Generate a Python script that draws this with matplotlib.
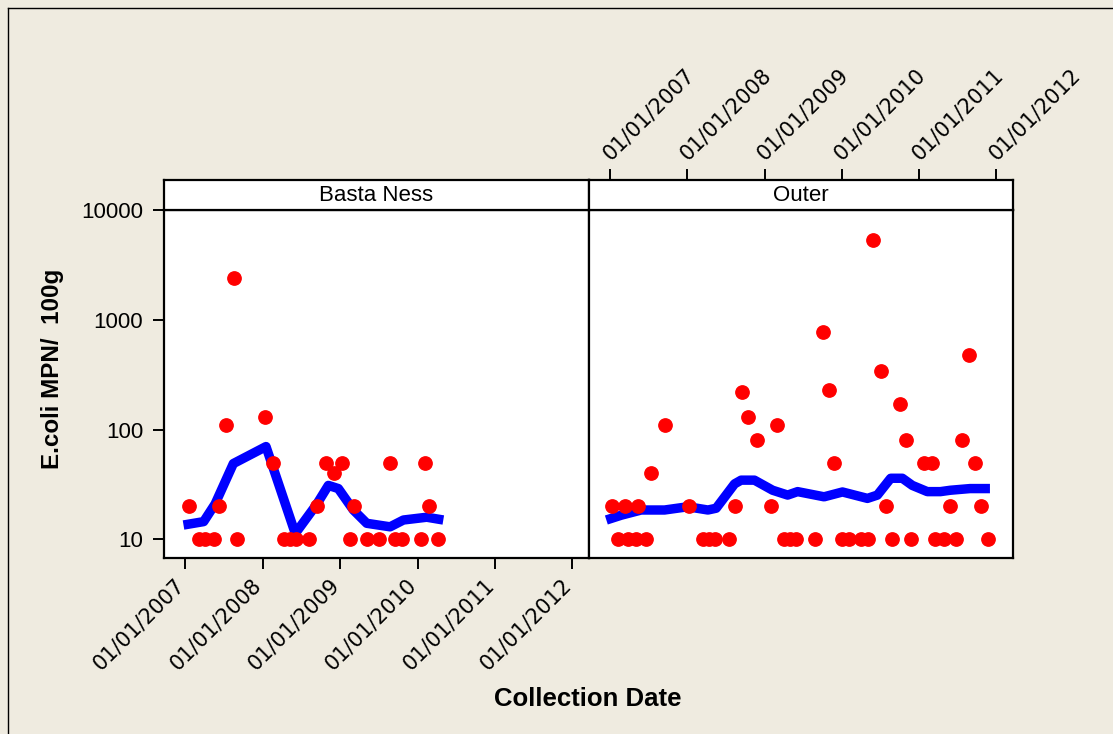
import matplotlib
matplotlib.use('Agg')
import matplotlib.pyplot as plt
import numpy as np
from matplotlib.lines import Line2D
from matplotlib.ticker import NullLocator

plt.rcParams['font.family'] = ['Liberation Sans', 'DejaVu Sans']

# ---------------- data ----------------
panel_names = ['Basta Ness', 'Outer']

basta_dates = ['2007-01-20', '2007-03-08', '2007-04-04', '2007-05-18', '2007-06-11',
               '2007-07-12', '2007-08-18', '2007-09-04', '2008-01-10', '2008-02-19',
               '2008-04-09', '2008-05-11', '2008-06-08', '2008-08-08', '2008-09-13',
               '2008-10-27', '2008-12-04', '2009-01-10', '2009-02-15', '2009-03-05',
               '2009-05-08', '2009-07-01', '2009-08-26', '2009-09-18', '2009-10-20',
               '2010-01-18', '2010-02-06', '2010-02-23', '2010-04-09']
basta_values = [20, 10, 10, 10, 20,
                110, 2400, 10, 130, 50,
                10, 10, 10, 10, 20,
                50, 40, 50, 10, 20,
                10, 10, 50, 10, 10,
                10, 50, 20, 10]

basta_fit_dates = ['2006-12-24', '2007-03-29', '2007-05-22', '2007-08-16', '2008-01-17',
                   '2008-06-03', '2008-09-13', '2008-11-06', '2008-12-23', '2009-03-04',
                   '2009-05-06', '2009-08-24', '2009-10-26', '2010-02-13', '2010-05-02']
basta_fit_values = [13.5, 14.5, 21, 49, 70,
                    11.3, 21, 31, 29, 18.5,
                    14, 13, 15, 15.9, 15]

outer_dates = ['2007-01-10', '2007-02-07', '2007-03-10', '2007-03-26', '2007-05-05',
               '2007-05-12', '2007-06-18', '2007-07-14', '2007-09-15', '2008-01-11',
               '2008-03-14', '2008-04-10', '2008-05-11', '2008-07-14', '2008-08-11',
               '2008-09-14', '2008-10-12', '2008-11-27', '2009-01-30', '2009-02-26',
               '2009-04-04', '2009-04-30', '2009-05-28', '2009-08-27', '2009-10-02',
               '2009-10-30', '2009-11-24', '2010-01-03', '2010-02-04', '2010-03-30',
               '2010-05-04', '2010-05-28', '2010-07-02', '2010-07-30', '2010-08-26',
               '2010-10-01', '2010-10-30', '2010-11-25', '2011-01-25', '2011-03-03',
               '2011-03-18', '2011-04-30', '2011-05-28', '2011-06-24', '2011-07-20',
               '2011-08-26', '2011-09-21', '2011-10-19', '2011-11-24']
outer_values = [20, 10, 20, 10, 10,
                20, 10, 40, 110, 20,
                10, 10, 10, 10, 20,
                220, 130, 80, 20, 110,
                10, 10, 10, 10, 780,
                230, 50, 10, 10, 10,
                10, 5300, 340, 20, 10,
                170, 80, 10, 50, 50,
                10, 10, 20, 10, 80,
                480, 50, 20, 10]

outer_fit_dates = ['2006-12-14', '2007-02-23', '2007-05-28', '2007-09-15', '2008-01-03',
                   '2008-04-07', '2008-05-16', '2008-08-11', '2008-09-11', '2008-11-13',
                   '2009-02-07', '2009-04-19', '2009-06-05', '2009-10-08', '2010-01-03',
                   '2010-05-01', '2010-06-17', '2010-08-19', '2010-10-13', '2010-11-29',
                   '2011-02-08', '2011-04-11', '2011-05-28', '2011-08-29', '2011-12-01']
outer_fit_values = [15, 16.6, 18.5, 18.5, 19.8,
                    18.5, 19.2, 32, 34.6, 34.6,
                    28, 25.3, 27.2, 24.4, 27,
                    23.6, 25.3, 36, 36, 31,
                    27.2, 27.2, 28, 29, 29]

y_ticks = [10, 100, 1000, 10000]
y_tick_labels = ['10', '100', '1000', '10000']
x_tick_dates = ['2007-01-01', '2008-01-01', '2009-01-01', '2010-01-01', '2011-01-01', '2012-01-01']
x_tick_labels = ['01/01/2007', '01/01/2008', '01/01/2009', '01/01/2010', '01/01/2011', '01/01/2012']
x_limits = ['2006-09-23', '2012-03-19']
y_limits = [6.76, 10000]

y_label = 'E.coli MPN/  100g'
x_label = 'Collection Date'

# ---------------- figure ----------------
W, H = 1113, 734
BG = '#efebe0'
fig = plt.figure(figsize=(W / 100, H / 100), dpi=100)
fig.patch.set_facecolor(BG)


def box(x0, y0, x1, y1):
    return [x0 / W, 1 - y1 / H, (x1 - x0) / W, (y1 - y0) / H]


def d(lst):
    return np.array(lst, dtype='datetime64[D]')


ax1 = fig.add_axes(box(164, 210, 589, 558))
ax2 = fig.add_axes(box(589, 210, 1013, 558))
st1 = fig.add_axes(box(164, 180, 589, 210))
st2 = fig.add_axes(box(589, 180, 1013, 210))

series = [(ax1, basta_dates, basta_values, basta_fit_dates, basta_fit_values),
          (ax2, outer_dates, outer_values, outer_fit_dates, outer_fit_values)]

TICK_FS = 16
DATE_FS = 15
DATE_FONT = ['DejaVu Sans']
xl = d(x_limits)

for ax, dts, vals, fdts, fvals in series:
    ax.set_facecolor('white')
    ax.plot(d(fdts), fvals, color='#0000ff', lw=6.8, solid_joinstyle='round',
            solid_capstyle='butt', zorder=2)
    ax.plot(d(dts), vals, linestyle='none', marker='o', markersize=9.6,
            markerfacecolor='#ff0000', markeredgecolor='#ff0000', zorder=3)
    ax.set_yscale('log')
    ax.set_ylim(*y_limits)
    ax.set_xlim(xl[0], xl[1])
    ax.yaxis.set_minor_locator(NullLocator())
    ax.xaxis.set_minor_locator(NullLocator())
    for sp in ax.spines.values():
        sp.set_linewidth(1.6)
        sp.set_color('black')

# left panel: y ticks and bottom x ticks
ax1.set_yticks(y_ticks)
ax1.set_yticklabels(y_tick_labels)
ax1.tick_params(axis='y', left=True, right=False, labelleft=True, length=8, width=1.4,
                pad=7, labelsize=TICK_FS)
ax1.set_xticks(d(x_tick_dates))
ax1.set_xticklabels(x_tick_labels, rotation=45, ha='right', va='baseline',
                    rotation_mode='anchor', family=DATE_FONT, fontsize=DATE_FS)
ax1.tick_params(axis='x', bottom=True, top=False, labelbottom=True, labeltop=False,
                length=8, width=1.4, pad=12)

# right panel: no ticks
ax2.set_yticks(y_ticks)
ax2.set_xticks(d(x_tick_dates))
ax2.tick_params(axis='both', left=False, right=False, top=False, bottom=False,
                labelleft=False, labelbottom=False, labeltop=False, labelright=False)

# strips
for st, name in zip([st1, st2], panel_names):
    st.set_facecolor('white')
    st.set_xlim(xl[0], xl[1])
    st.set_yticks([])
    for sp in st.spines.values():
        sp.set_linewidth(1.6)
        sp.set_color('black')
    st.text(0.5, 0.47, name, ha='center', va='center', fontsize=16,
            transform=st.transAxes)
st1.set_xticks([])

# top date ticks on the right strip
st2.set_xticks(d(x_tick_dates))
st2.set_xticklabels(x_tick_labels, rotation=45, ha='left', va='baseline',
                    rotation_mode='anchor', family=DATE_FONT, fontsize=DATE_FS)
st2.tick_params(axis='x', bottom=False, top=True, labelbottom=False, labeltop=True,
                length=8, width=1.4, pad=6)

# axis labels
fig.text(588 / W, 1 - 699 / H, x_label, ha='center', va='center', fontsize=18.5,
         fontweight='bold')
fig.text(53 / W, 1 - 369 / H, y_label, ha='center', va='center', fontsize=17.4,
         fontweight='bold', rotation=90)

# outer frame (top and left edges visible)
fig.add_artist(Line2D([7.5 / W, 7.5 / W], [0, 1 - 7.5 / H], color='black', lw=1.0,
                      transform=fig.transFigure))
fig.add_artist(Line2D([7.5 / W, 1], [1 - 7.5 / H, 1 - 7.5 / H], color='black', lw=1.0,
                      transform=fig.transFigure))

fig.savefig('out.png', dpi=100, facecolor=BG)
